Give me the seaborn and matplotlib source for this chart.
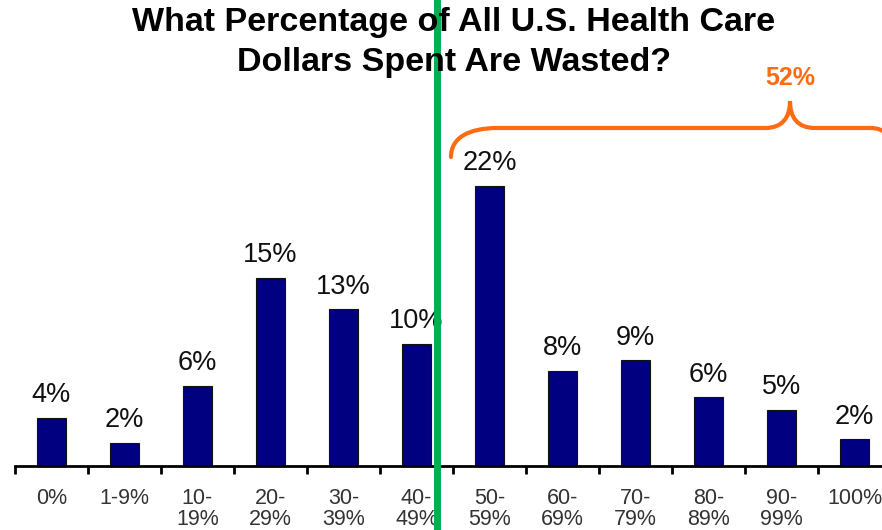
import numpy as np
import pandas as pd
import matplotlib
matplotlib.use("Agg")
import matplotlib.pyplot as plt
from matplotlib.path import Path
from matplotlib.patches import PathPatch
import seaborn as sns

categories = ["0%", "1-9%", "10-\n19%", "20-\n29%", "30-\n39%", "40-\n49%",
              "50-\n59%", "60-\n69%", "70-\n79%", "80-\n89%", "90-\n99%", "100%"]
# printed labels (rounded) and bar heights as drawn in the picture
value_labels = ["4%", "2%", "6%", "15%", "13%", "10%", "22%", "8%", "9%", "6%", "5%", "2%"]
bar_heights = [3.8, 1.8, 6.3, 14.8, 12.3, 9.6, 22.0, 7.5, 8.3, 5.4, 4.4, 2.1]
bracket_label = "52%"
title_lines = ["What Percentage of All U.S. Health Care", "Dollars Spent Are Wasted?"]

sns.set_style("white")
plt.rcParams['font.family'] = ['Liberation Sans', 'DejaVu Sans']

W, H = 882, 530
fig = plt.figure(figsize=(8.82, 5.30), dpi=100)
# axes spans 15..891 px horizontally, baseline at y=466 px
ax = fig.add_axes([15 / W, (H - 466) / H, 876 / W, 366 / H])

df = pd.DataFrame({"cat": categories, "val": bar_heights})
sns.barplot(data=df, x="cat", y="val", color="#000080", width=0.41,
            edgecolor="#111111", linewidth=0.8, saturation=1, ax=ax)

ax.set_xlim(-0.5, len(categories) - 0.5)
ax.set_ylim(0, 366 / 12.73)
ax.set_xlabel("")
ax.set_ylabel("")
ax.set_yticks([])
for s in ["top", "right", "left"]:
    ax.spines[s].set_visible(False)
ax.spines["bottom"].set_linewidth(2)
ax.spines["bottom"].set_color("black")

ax.set_xticks(range(len(categories)))
ax.set_xticklabels(categories, fontsize=15.5, color="#333333", linespacing=1.0)
ax.set_xticks(np.arange(-0.5, len(categories), 1.0), minor=True)
ax.tick_params(axis="x", which="major", bottom=False, length=0, pad=16)
ax.tick_params(axis="x", which="minor", bottom=True, length=6, width=2,
               color="black", direction="out")

for i, (h, lab) in enumerate(zip(bar_heights, value_labels)):
    ax.annotate(lab, (i, h), xytext=(0, 7), textcoords="offset points",
                ha="center", va="bottom", fontsize=19.5, color="#111111")

for line, ypx in zip(title_lines, [23, 62]):
    fig.text(454 / W, 1 - ypx / H, line, ha="center", va="center", fontsize=24.5,
             fontweight="bold", color="black")

# orange brace (pixel coords, y from top)
orange = "#FF6A13"
def px(x, y):
    return (x / W, 1 - y / H)

verts = [px(451, 157), px(451, 138), px(468, 128), px(498, 128),
         px(765, 128), px(782, 128), px(790, 118), px(790, 101),
         px(790, 118), px(798, 128), px(815, 128),
         px(870, 128), px(878, 128), px(883, 130), px(886, 134)]
codes = [Path.MOVETO, Path.CURVE4, Path.CURVE4, Path.CURVE4,
         Path.LINETO, Path.CURVE4, Path.CURVE4, Path.CURVE4,
         Path.CURVE4, Path.CURVE4, Path.CURVE4,
         Path.LINETO, Path.CURVE4, Path.CURVE4, Path.CURVE4]
brace = PathPatch(Path(verts, codes), transform=fig.transFigure, fill=False,
                  edgecolor=orange, linewidth=3, capstyle="round")
fig.add_artist(brace)
fig.text(790 / W, 1 - 78 / H, bracket_label, ha="center", va="center",
         fontsize=18, fontweight="bold", color=orange)

# green vertical divider
fig.add_artist(plt.Line2D([437 / W, 437 / W], [0, 1], transform=fig.transFigure,
                          color="#00B050", linewidth=5))

fig.savefig("out.png", dpi=100)
